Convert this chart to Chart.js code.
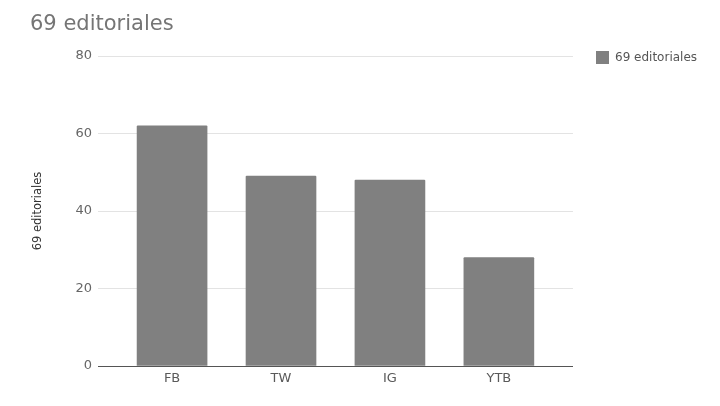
<!DOCTYPE html>
<html><head><meta charset="utf-8">
<script src="https://cdn.jsdelivr.net/npm/chart.js@4"></script>
<style>html,body{margin:0;padding:0;background:#fff}#wrap{width:720px;height:406px}</style>
</head><body><div id="wrap"><canvas id="c"></canvas></div>
<script>
const categories = ['FB', 'TW', 'IG', 'YTB'];
const seriesName = '69 editoriales';
const values = [62, 49, 48, 28];
const yTicks = [0, 20, 40, 60, 80];

Chart.defaults.font.family = '"DejaVu Sans", Roboto, Arial, sans-serif';

const legendPlacer = {
  id: 'legendPlacer',
  afterLayout(chart) {
    const l = chart.legend;
    if (!l) return;
    const w = l.width, h = l.height;
    l.left = 586; l.right = l.left + w;
    l.top = 41; l.bottom = l.top + h;
  }
};

new Chart(document.getElementById('c'), {
  type: 'bar',
  data: {
    datasets: [{
      label: seriesName,
      data: values.map((v, i) => ({x: i, y: v})),
      backgroundColor: '#808080',
      borderWidth: 0,
      borderRadius: 1,
      barThickness: 70
    }]
  },
  plugins: [legendPlacer],
  options: {
    responsive: true,
    maintainAspectRatio: false,
    animation: false,
    layout: {padding: {left: 30, right: 26, top: 8, bottom: 10}},
    plugins: {
      tooltip: {enabled: false},
      title: {display: true, text: seriesName, align: 'start', color: '#757575',
        font: {size: 21, weight: 'normal'}, padding: {top: 4, bottom: 18.8}},
      legend: {position: 'right', align: 'start',
        labels: {boxWidth: 13, boxHeight: 13, color: '#555', font: {size: 12}, padding: 10}}
    },
    scales: {
      x: {
        type: 'linear', min: -0.68, max: 3.68, offset: false,
        afterBuildTicks: s => { s.ticks = categories.map((c, i) => ({value: i})); },
        afterFit: s => { s.height = 30; },
        ticks: {callback: v => categories[v], color: '#5a5a5a', font: {size: 13}, padding: 5, maxRotation: 0, autoSkip: false},
        grid: {display: false, offset: false, drawTicks: false, tickLength: 0},
        border: {color: '#555', width: 1}
      },
      y: {
        min: 0, max: 80,
        afterBuildTicks: s => { s.ticks = yTicks.map(v => ({value: v})); },
        afterFit: s => { s.width = 68; },
        ticks: {color: '#666', font: {size: 13}, padding: 6},
        grid: {color: '#e3e3e3', drawTicks: false},
        border: {display: false},
        title: {display: true, text: seriesName, color: '#333', font: {size: 11.5}, padding: {top: 1, bottom: 4}}
      }
    }
  }
});
</script></body></html>
